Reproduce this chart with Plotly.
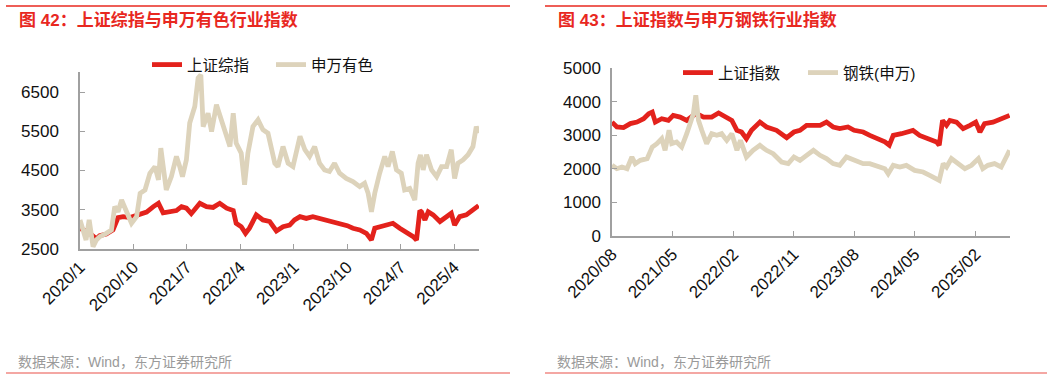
import plotly.graph_objects as go

# ---------------- Left chart: 上证综指 vs 申万有色 ----------------
sse_l_dates = ["2020-01-01","2020-02-20","2020-03-25","2020-04-11","2020-05-15","2020-06-18","2020-07-14",
    "2020-08-09","2020-09-13","2020-09-30","2020-11-04","2020-12-07","2021-01-11","2021-02-06","2021-03-02",
    "2021-04-05","2021-05-09","2021-06-04","2021-06-29","2021-07-24","2021-09-06","2021-10-10","2021-11-13",
    "2021-12-17","2022-01-21","2022-02-24","2022-03-11","2022-04-06","2022-04-28","2022-05-18","2022-06-22",
    "2022-07-26","2022-08-30","2022-10-03","2022-11-06","2022-12-10","2023-01-04","2023-02-01","2023-03-05",
    "2023-04-08","2023-05-12","2023-06-15","2023-07-19","2023-08-23","2023-10-01","2023-10-30","2023-12-04",
    "2024-01-07","2024-02-02","2024-02-19","2024-03-15","2024-04-18","2024-05-22","2024-06-26","2024-07-30",
    "2024-09-03","2024-09-20","2024-10-07","2024-10-15","2024-11-02","2024-11-19","2024-12-14","2025-01-18",
    "2025-02-21","2025-03-17","2025-04-03","2025-04-29","2025-06-02","2025-07-06","2025-08-04"]
sse_l_vals = [3030,2900,2760,2840,2880,2985,3300,3325,3300,3330,3380,3440,3580,3665,3420,
    3450,3480,3580,3540,3400,3665,3580,3560,3665,3540,3480,3155,3070,2900,3030,3370,
    3240,3200,2960,3070,3110,3240,3325,3280,3325,3280,3240,3200,3155,3095,3030,2985,
    2900,2730,3030,3070,3110,3155,3030,2940,2815,2730,3480,3450,3240,3450,3370,3200,
    3325,3410,3110,3325,3370,3500,3606]

nf_dates = ["2020-01-01","2020-01-18","2020-02-01","2020-02-17","2020-03-08","2020-03-25","2020-04-11",
    "2020-05-15","2020-06-10","2020-06-27","2020-07-14","2020-08-01","2020-08-26","2020-09-21","2020-10-17",
    "2020-11-04","2020-11-29","2020-12-24","2021-01-19","2021-02-06","2021-02-18","2021-03-02","2021-03-18",
    "2021-04-13","2021-05-09","2021-05-26","2021-06-09","2021-06-29","2021-07-16","2021-08-11","2021-08-28",
    "2021-09-11","2021-09-23","2021-10-18","2021-11-05","2021-11-30","2021-12-26","2022-01-21","2022-02-07",
    "2022-02-24","2022-03-11","2022-04-06","2022-04-23","2022-05-10","2022-06-05","2022-07-01","2022-07-26",
    "2022-08-21","2022-09-25","2022-10-11","2022-11-06","2022-12-02","2022-12-27","2023-02-01","2023-02-26",
    "2023-03-22","2023-04-17","2023-05-12","2023-06-07","2023-07-02","2023-07-28","2023-08-23","2023-09-26",
    "2023-10-30","2023-12-04","2023-12-29","2024-01-16","2024-02-02","2024-02-19","2024-03-15","2024-04-10",
    "2024-04-27","2024-05-19","2024-06-09","2024-07-04","2024-07-21","2024-08-16","2024-09-11","2024-09-28",
    "2024-10-10","2024-10-24","2024-11-10","2024-12-06","2025-01-01","2025-01-26","2025-02-21","2025-03-17",
    "2025-04-03","2025-04-20","2025-05-16","2025-06-11","2025-07-06","2025-07-23","2025-08-04"]
nf_vals = [3240,2985,2730,3240,2560,2730,2815,2900,2985,3580,3450,3750,3450,3155,3325,
    3920,4005,4430,4600,4260,5070,4515,4005,4345,4860,4600,4345,4770,5710,6130,6860,
    6940,5620,5960,5490,6175,5790,5370,5110,5960,5200,4940,4135,4940,5620,5790,5540,
    5450,4685,4600,5110,4685,4600,5370,5030,4860,5110,4685,4515,4475,4685,4430,4300,
    4220,4090,4175,3920,3450,3920,4430,4860,4600,4985,4515,4430,4005,4045,3750,4685,
    4900,4515,4900,4515,4345,4600,4600,5030,4300,4685,4770,4900,5110,5620,5450]

# ---------------- Right chart: 上证指数 vs 钢铁(申万) ----------------
sse_r_dates = ["2020-08-01","2020-08-23","2020-09-22","2020-10-23","2020-11-22","2020-12-22","2021-01-14",
    "2021-01-30","2021-02-13","2021-03-14","2021-04-13","2021-05-05","2021-06-05","2021-07-05","2021-08-04",
    "2021-08-19","2021-09-19","2021-10-26","2021-11-26","2021-12-26","2022-01-25","2022-02-17","2022-03-10",
    "2022-04-01","2022-04-24","2022-06-01","2022-07-01","2022-08-15","2022-09-30","2022-11-02","2022-11-29",
    "2022-12-29","2023-01-29","2023-02-28","2023-03-29","2023-04-28","2023-05-28","2023-07-04","2023-08-01",
    "2023-09-11","2023-10-11","2023-11-18","2023-12-18","2024-01-07","2024-01-25","2024-03-02","2024-04-01",
    "2024-04-23","2024-05-23","2024-07-01","2024-08-08","2024-08-20","2024-09-04","2024-09-22","2024-10-07",
    "2024-11-06","2024-12-06","2025-01-06","2025-02-01","2025-02-20","2025-03-13","2025-04-20","2025-05-27",
    "2025-07-04"]
sse_r_vals = [3390,3245,3225,3345,3390,3490,3640,3690,3390,3490,3440,3590,3540,3440,3590,
    3640,3540,3540,3660,3540,3440,3145,3095,2895,3145,3390,3245,3145,2925,3095,3145,
    3295,3295,3295,3390,3245,3195,3245,3145,3095,2995,2895,2800,2700,2995,3045,3095,
    3145,2995,2895,2800,2700,3440,3295,3440,3390,3195,3295,3390,3095,3345,3390,3490,
    3590]

steel_dates = ["2020-08-01","2020-08-23","2020-09-15","2020-10-08","2020-10-30","2020-11-14","2020-12-07",
    "2021-01-07","2021-01-30","2021-02-20","2021-03-14","2021-03-29","2021-04-16","2021-04-28","2021-05-20",
    "2021-06-12","2021-07-05","2021-07-20","2021-08-04","2021-08-15","2021-08-27","2021-09-11","2021-10-03",
    "2021-10-26","2021-11-18","2021-12-10","2022-01-02","2022-01-25","2022-02-17","2022-03-05","2022-04-01",
    "2022-05-01","2022-06-01","2022-07-01","2022-07-31","2022-09-07","2022-10-07","2022-11-02","2022-11-29",
    "2022-12-29","2023-01-29","2023-02-28","2023-03-29","2023-04-28","2023-05-28","2023-06-27","2023-08-01",
    "2023-09-11","2023-10-11","2023-11-18","2023-12-18","2024-01-02","2024-01-25","2024-02-24","2024-03-24",
    "2024-05-01","2024-06-08","2024-07-08","2024-07-31","2024-08-20","2024-09-07","2024-09-22","2024-10-14",
    "2024-11-14","2024-12-14","2025-01-13","2025-02-13","2025-03-05","2025-03-28","2025-04-27","2025-05-27",
    "2025-06-19","2025-07-04"]
steel_vals = [2103,2004,2054,2004,2351,2153,2252,2302,2649,2748,2897,2550,3145,2748,2798,
    2649,3045,3393,3641,4187,3442,3145,2748,3045,2996,3045,2847,3045,2550,2847,2351,
    2550,2698,2550,2450,2202,2153,2351,2252,2401,2550,2401,2302,2153,2103,2351,2252,
    2153,2153,2054,2004,1855,2103,2054,2103,1954,1905,1806,1706,1657,2153,2054,2302,
    2153,2004,2103,2302,2004,2103,2153,2054,2351,2550]

left_ticks = ["2020-01-01","2020-10-01","2021-07-01","2022-04-01","2023-01-01","2023-10-01","2024-07-01","2025-04-01"]
left_ticktext = ["2020/1","2020/10","2021/7","2022/4","2023/1","2023/10","2024/7","2025/4"]
right_ticks = ["2020-08-01","2021-05-01","2022-02-01","2022-11-01","2023-08-01","2024-05-01","2025-02-01"]
right_ticktext = ["2020/08","2021/05","2022/02","2022/11","2023/08","2024/05","2025/02"]

RED = "#e3221c"
BEIGE = "#ddd3bb"
FONT = "Liberation Sans, Noto Sans CJK SC, sans-serif"
AXC = "#a0a0a0"

fig = go.Figure()
fig.add_trace(go.Scatter(x=sse_l_dates, y=sse_l_vals, name="上证综指", mode="lines",
                         line=dict(color=RED, width=4.8), xaxis="x", yaxis="y", legend="legend",
                         legendrank=1))
fig.add_trace(go.Scatter(x=nf_dates, y=nf_vals, name="申万有色", mode="lines",
                         line=dict(color=BEIGE, width=4.8), xaxis="x", yaxis="y", legend="legend",
                         legendrank=2))
fig.add_trace(go.Scatter(x=sse_r_dates, y=sse_r_vals, name="上证指数", mode="lines",
                         line=dict(color=RED, width=4.8), xaxis="x2", yaxis="y2", legend="legend2",
                         legendrank=1))
fig.add_trace(go.Scatter(x=steel_dates, y=steel_vals, name="钢铁(申万)", mode="lines",
                         line=dict(color=BEIGE, width=4.8), xaxis="x2", yaxis="y2", legend="legend2",
                         legendrank=2))

W, H = 1061, 379
def px(x): return x / W
def py(y): return 1 - y / H

axis_common = dict(showgrid=False, zeroline=False, showline=True, linecolor=AXC, linewidth=1.5,
                   ticks="inside", ticklen=5, tickcolor=AXC, automargin=False,
                   tickfont=dict(size=17, color="#111", family=FONT))

fig.update_layout(
    width=W, height=H, margin=dict(l=0, r=0, t=0, b=0, pad=0, autoexpand=False),
    paper_bgcolor="white", plot_bgcolor="white",
    font=dict(family=FONT, color="#111"),
    xaxis=dict(domain=[px(80), px(479)], anchor="y", type="date",
               range=["2020-01-01", "2025-08-06"], tickvals=left_ticks, ticktext=left_ticktext,
               tickangle=-45, **axis_common),
    yaxis=dict(domain=[py(249), py(72.4)], anchor="x", range=[2500, 7000],
               tickvals=[2500, 3500, 4500, 5500, 6500], ticklabelstandoff=16, **axis_common),
    xaxis2=dict(domain=[px(612), px(1010)], anchor="y2", type="date",
                range=["2020-08-01", "2025-07-06"], tickvals=right_ticks, ticktext=right_ticktext,
                tickangle=-45, **axis_common),
    yaxis2=dict(domain=[py(236), py(68)], anchor="x2", range=[0, 5000],
                tickvals=[0, 1000, 2000, 3000, 4000, 5000], ticklabelstandoff=6, **axis_common),
    legend=dict(orientation="h", x=px(147), y=py(65), xanchor="left", yanchor="middle",
                font=dict(size=15.5, family=FONT, color="#111"), bgcolor="rgba(0,0,0,0)",
                itemwidth=30, traceorder="normal", entrywidth=79, entrywidthmode="pixels"),
    legend2=dict(orientation="h", x=px(678), y=py(73), xanchor="left", yanchor="middle",
                 font=dict(size=15.5, family=FONT, color="#111"), bgcolor="rgba(0,0,0,0)",
                 itemwidth=30, traceorder="normal", entrywidth=80, entrywidthmode="pixels"),
    showlegend=True,
)

TITLE_RED = "#e8281f"
fig.add_shape(type="line", xref="paper", yref="paper", x0=px(6), x1=px(510), y0=py(6), y1=py(6),
              line=dict(color=TITLE_RED, width=1.5))
fig.add_shape(type="line", xref="paper", yref="paper", x0=px(545), x1=px(1047), y0=py(6), y1=py(6),
              line=dict(color=TITLE_RED, width=1.5))
fig.add_shape(type="line", xref="paper", yref="paper", x0=px(6), x1=px(510), y0=py(373), y1=py(373),
              line=dict(color="#f08a84", width=1.5))
fig.add_shape(type="line", xref="paper", yref="paper", x0=px(545), x1=px(1047), y0=py(373), y1=py(373),
              line=dict(color="#f08a84", width=1.5))

fig.add_annotation(text="<b>图 42：上证综指与申万有色行业指数</b>", xref="paper", yref="paper",
                   x=px(17), y=py(20), xanchor="left", yanchor="middle", showarrow=False,
                   font=dict(size=17, color=TITLE_RED, family=FONT))
fig.add_annotation(text="<b>图 43：上证指数与申万钢铁行业指数</b>", xref="paper", yref="paper",
                   x=px(556), y=py(20), xanchor="left", yanchor="middle", showarrow=False,
                   font=dict(size=17, color=TITLE_RED, family=FONT))
fig.add_annotation(text="数据来源：Wind，东方证券研究所", xref="paper", yref="paper",
                   x=px(16), y=py(362), xanchor="left", yanchor="middle", showarrow=False,
                   font=dict(size=14, color="#9a9a9a", family=FONT))
fig.add_annotation(text="数据来源：Wind，东方证券研究所", xref="paper", yref="paper",
                   x=px(555), y=py(362), xanchor="left", yanchor="middle", showarrow=False,
                   font=dict(size=14, color="#9a9a9a", family=FONT))

fig.write_html("out.html", config={"displayModeBar": False},
               post_script="document.body.style.margin='0';document.body.style.overflow='hidden';")
